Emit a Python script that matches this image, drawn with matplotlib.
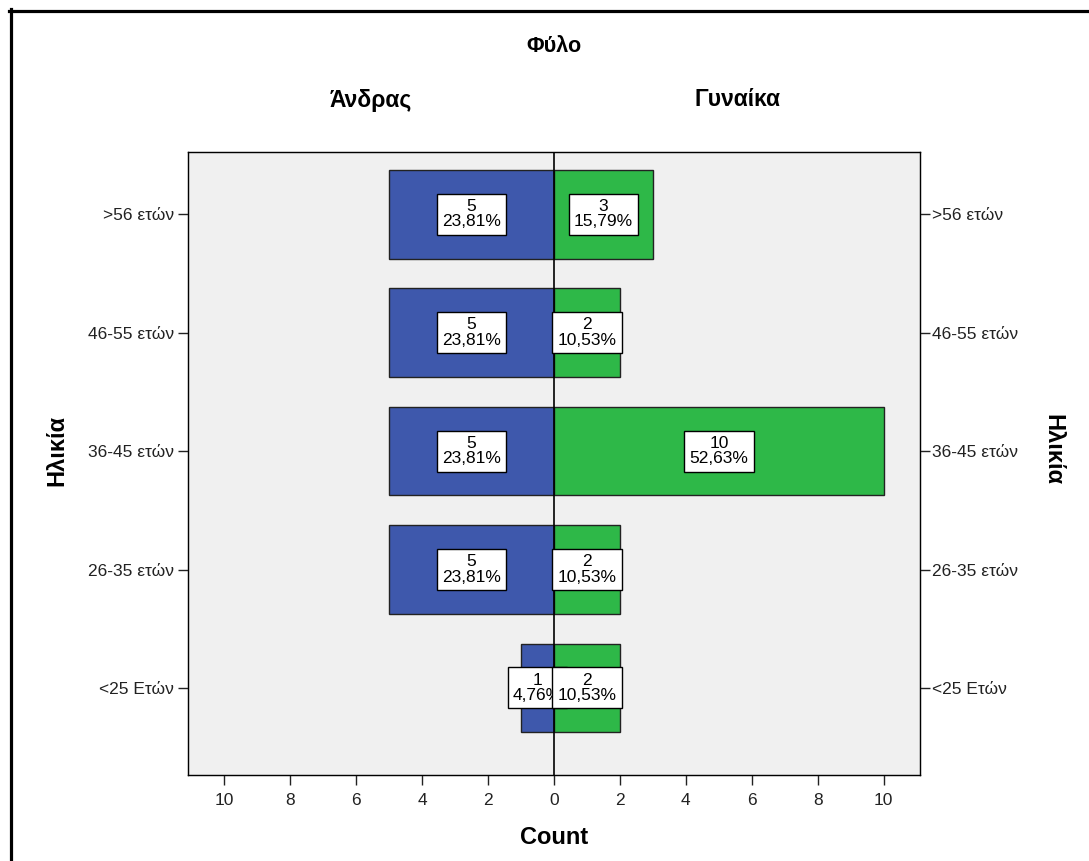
import matplotlib.pyplot as plt
from matplotlib.lines import Line2D

plt.rcParams['font.family'] = ['Liberation Sans', 'DejaVu Sans']

# data
age_groups = ['<25 Ετών', '26-35 ετών', '36-45 ετών', '46-55 ετών', '>56 ετών']
male = [1, 5, 5, 5, 5]
female = [2, 2, 10, 2, 3]
male_pct = ['4,76%', '23,81%', '23,81%', '23,81%', '23,81%']
female_pct = ['10,53%', '10,53%', '52,63%', '10,53%', '15,79%']

blue = '#3e58ac'
green = '#2eb848'
W, H = 1089, 861

fig = plt.figure(figsize=(10.89, 8.61), dpi=100)
ax = fig.add_axes([188 / W, 1 - 775 / H, 732 / W, 623 / H])
ax.set_facecolor('#f0f0f0')

pos = list(range(len(age_groups)))
ax.barh(pos, [-m for m in male], height=0.75, color=blue, edgecolor='#222222', linewidth=1, zorder=2)
ax.barh(pos, female, height=0.75, color=green, edgecolor='#222222', linewidth=1, zorder=2)
ax.axvline(0, color='black', linewidth=1.2, zorder=3)

box = dict(boxstyle='square,pad=0.3', fc='white', ec='black', lw=1)
for i in pos:
    ax.text(-male[i] / 2, i, '%d\n%s' % (male[i], male_pct[i]), ha='center', va='center',
            fontsize=12.5, linespacing=1.05, bbox=box, zorder=4)
for i in pos:
    ax.text(female[i] / 2, i, '%d\n%s' % (female[i], female_pct[i]), ha='center', va='center',
            fontsize=12.5, linespacing=1.05, bbox=box, zorder=5)

ax.set_xlim(-11.1, 11.1)
ax.set_ylim(-0.735, 4.525)
ticks = list(range(-10, 11, 2))
ax.set_xticks(ticks)
ax.set_xticklabels([str(abs(t)) for t in ticks], fontsize=12.5, color='#222222')
ax.set_yticks(pos)
ax.set_yticklabels(age_groups, fontsize=12.5, color='#222222')
ax.tick_params(axis='y', direction='out', length=7, width=1, colors='#222222', pad=3)
ax.tick_params(axis='x', direction='out', length=7, width=1, colors='#222222', pad=6)
for s in ax.spines.values():
    s.set_color('#222222')
    s.set_linewidth(1)

ax2 = ax.twinx()
ax2.set_ylim(ax.get_ylim())
ax2.set_yticks(pos)
ax2.set_yticklabels(age_groups, fontsize=12.5, color='#222222')
ax2.tick_params(axis='y', direction='out', length=7, width=1, colors='#222222', pad=2)

# axis titles
fig.text(554 / W, 1 - 838 / H, 'Count', ha='center', va='center', fontsize=17, fontweight='bold')
fig.text(57 / W, 1 - 450 / H, 'Ηλικία', ha='center', va='center', rotation=90, fontsize=17, fontweight='bold')
fig.text(1053 / W, 1 - 450 / H, 'Ηλικία', ha='center', va='center', rotation=270, fontsize=17, fontweight='bold')

# panel headers
fig.text(371 / W, 1 - 100 / H, 'Άνδρας', ha='center', va='center', fontsize=16.5, fontweight='bold')
fig.text(737 / W, 1 - 100 / H, 'Γυναίκα', ha='center', va='center', fontsize=16.5, fontweight='bold')
fig.text(554 / W, 1 - 47 / H, 'Φύλο', ha='center', va='center', fontsize=15.5, fontweight='bold')

# frame lines at left and top
fig.add_artist(Line2D([10.5 / W, 10.5 / W], [0, 1 - 9 / H], transform=fig.transFigure,
                      color='black', linewidth=2.3))
fig.add_artist(Line2D([9 / W, 1], [1 - 10.5 / H, 1 - 10.5 / H], transform=fig.transFigure,
                      color='black', linewidth=2.3))

fig.savefig('out.png', dpi=100)
